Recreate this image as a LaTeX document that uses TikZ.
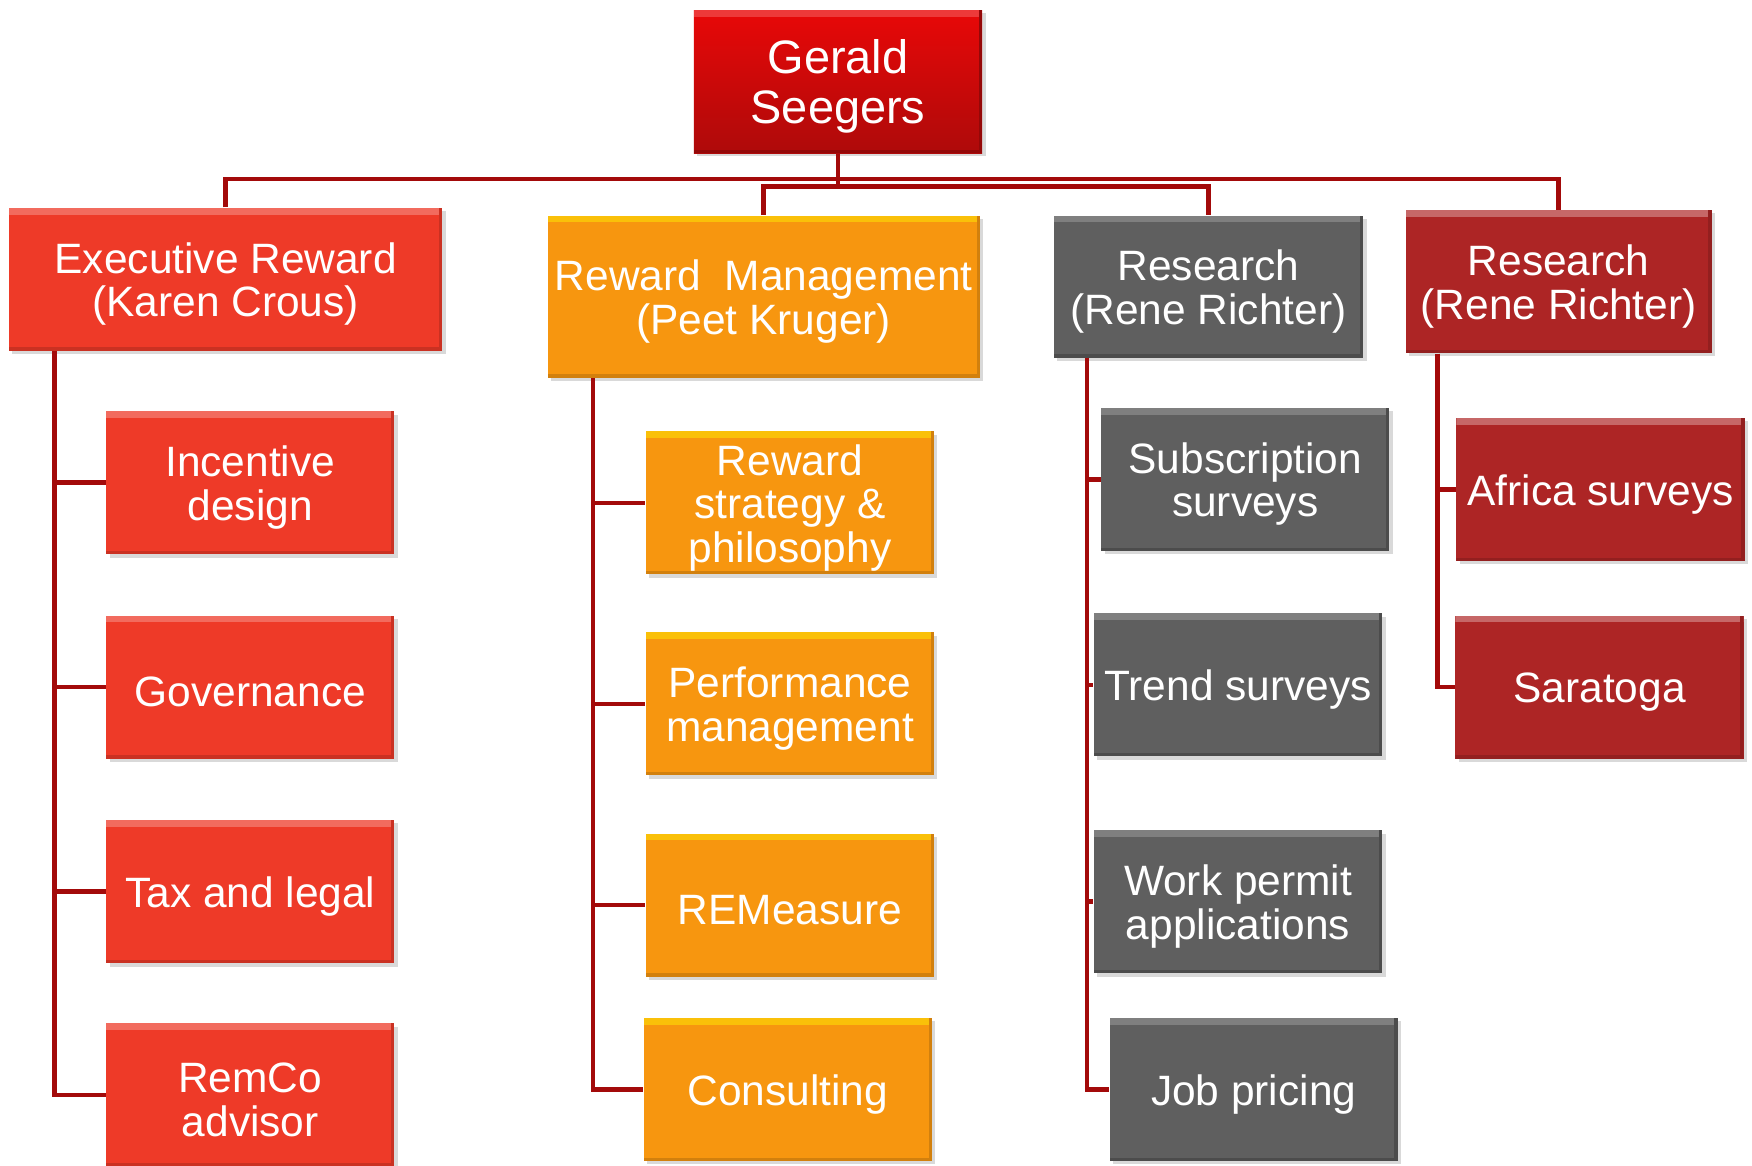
\documentclass[tikz,border=0pt]{standalone}
\usepackage{fontspec}
\setmainfont{Liberation Sans}
\usepackage{tikz}
\usetikzlibrary{positioning,shadows,calc}

\definecolor{rootTop}{HTML}{E80808}
\definecolor{rootBot}{HTML}{AE0A0A}
\definecolor{exeRed}{HTML}{EE3A28}
\definecolor{rewOrange}{HTML}{F7960F}
\definecolor{resGray}{HTML}{5F5F5F}
\definecolor{resRed}{HTML}{AD2525}
\definecolor{linkRed}{HTML}{A30A0A}

\begin{document}
\begin{tikzpicture}[x=0.5pt, y=-0.5pt,
    box/.style={rectangle, inner sep=0pt, align=center, text=white,
        font=\fontsize{19}{19.5}\selectfont,
        execute at begin node={\vbox\bgroup\kern4.3pt\hbox\bgroup},
        execute at end node={\egroup\egroup},
        drop shadow={opacity=0.3, shadow xshift=1.5pt, shadow yshift=-1.5pt}},
    bevel/.style 2 args={path picture={
        \fill[#1] (path picture bounding box.north west) rectangle ([yshift=-3pt]path picture bounding box.north east);
        \fill[#2] (path picture bounding box.south west) rectangle ([yshift=1.5pt]path picture bounding box.south east);
        \fill[#2] (path picture bounding box.north east) rectangle ([xshift=-1.5pt]path picture bounding box.south east);}},
    rootbox/.style={box, top color=rootTop, bottom color=rootBot, font=\fontsize{21}{22.5}\selectfont,
        bevel={rootTop!80!white}{rootBot!85!black}},
    exebox/.style={box, fill=exeRed, bevel={exeRed!75!white}{exeRed!85!black}},
    rewbox/.style={box, fill=rewOrange, bevel={rewOrange!60!yellow}{rewOrange!85!black}},
    graybox/.style={box, fill=resGray, bevel={resGray!80!white}{resGray!80!black}},
    redbox/.style={box, fill=resRed, bevel={resRed!70!white}{resRed!85!black}},
    small/.style={minimum width=129pt, minimum height=64pt},
    link/.style={draw=linkRed, line width=2pt}]

    \useasboundingbox (0,0) rectangle (1568,1043);

    % Top
    \node[rootbox, small] (root) at (750,73) {Gerald\\Seegers};

    % Level one
    \node[exebox, minimum width=194pt, minimum height=64pt] (exec) at (202,250) {Executive Reward\\(Karen Crous)};
    \node[rewbox, minimum width=193.5pt, minimum height=72.5pt] (reward) at (683.5,265.5) {Reward~~Management\\(Peet Kruger)};
    \node[graybox, minimum width=138.5pt, minimum height=63.5pt] (resG) at (1081.5,256.5) {Research\\(Rene Richter)};
    \node[redbox, minimum width=137pt, minimum height=64pt] (resR) at (1395,252) {Research\\(Rene Richter)};

    % Executive reward team
    \node[exebox, small] (incentive) at (224,432) {Incentive\\design};
    \node[exebox, small] (governance) at (224,615) {Governance};
    \node[exebox, small] (tax) at (224,798) {Tax and legal};
    \node[exebox, small] (remco) at (224,980) {RemCo\\advisor};

    % Reward management team
    \node[rewbox, small] (strategy) at (707,450) {Reward\\strategy \&\\philosophy};
    \node[rewbox, small] (performance) at (707,630) {Performance\\management};
    \node[rewbox, small] (remeasure) at (707,810) {REMeasure};
    \node[rewbox, small] (consulting) at (705,975) {Consulting};

    % Research team (gray)
    \node[graybox, small] (subscription) at (1114.5,429) {Subscription\\surveys};
    \node[graybox, small] (trend) at (1108,613) {Trend surveys};
    \node[graybox, small] (permit) at (1108,807) {Work permit\\applications};
    \node[graybox, small] (pricing) at (1122,975) {Job pricing};

    % Research team (red)
    \node[redbox, small] (africa) at (1432.5,438) {Africa surveys};
    \node[redbox, small] (saratoga) at (1431.5,615) {Saratoga};

    % Connect top to level one
    \coordinate (busA) at (750,160);
    \coordinate (busB) at (750,167);
    \draw[link] (root.south) -- (busB);
    \draw[link] (exec.north) |- (busA) -| (resR.north);
    \draw[link] (reward.north) |- (busB) -| (resG.north);

    % Connect teams
    \foreach \c in {incentive,governance,tax,remco}
        \draw[link] ([xshift=20.5pt]exec.south west) |- (\c.west);
    \foreach \c in {strategy,performance,remeasure,consulting}
        \draw[link] ([xshift=20.5pt]reward.south west) |- (\c.west);
    \foreach \c in {subscription,trend,permit,pricing}
        \draw[link] ([xshift=15pt]resG.south west) |- (\c.west);
    \foreach \c in {africa,saratoga}
        \draw[link] ([xshift=14.5pt]resR.south west) |- (\c.west);
\end{tikzpicture}
\end{document}
